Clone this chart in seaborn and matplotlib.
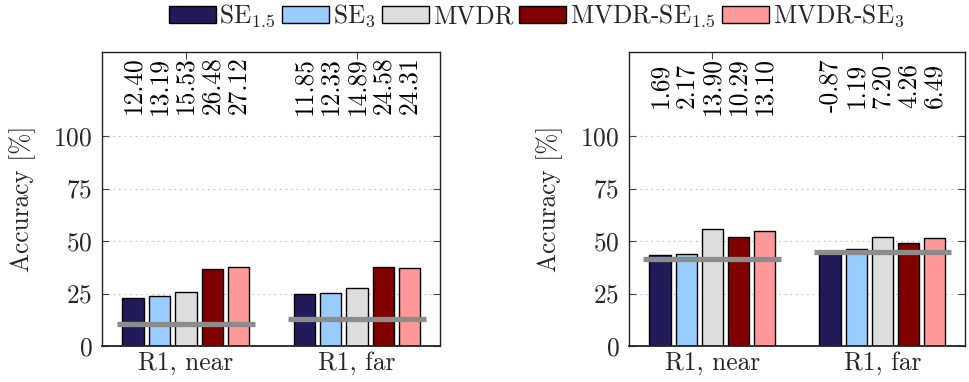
import matplotlib
matplotlib.use("Agg")
import matplotlib.pyplot as plt
import seaborn as sns
import pandas as pd

# Conditions on the x axis and the compared front-ends
conditions = ["R1, near", "R1, far"]
methods = ["SE$_{1.5}$", "SE$_{3}$", "MVDR", "MVDR-SE$_{1.5}$", "MVDR-SE$_{3}$"]
colors = ["#231A5A", "#99CCFF", "#DDDDDD", "#800000", "#FF9999"]

# Baseline accuracy (grey line) per condition, for the two panels
baseline_left = [10.4, 12.9]
baseline_right = [41.6, 44.8]

# Absolute improvement over the baseline [%], one list per method: [near, far]
gain_left = {
    "SE$_{1.5}$": [12.40, 11.85],
    "SE$_{3}$": [13.19, 12.33],
    "MVDR": [15.53, 14.89],
    "MVDR-SE$_{1.5}$": [26.48, 24.58],
    "MVDR-SE$_{3}$": [27.12, 24.31],
}
gain_right = {
    "SE$_{1.5}$": [1.69, -0.87],
    "SE$_{3}$": [2.17, 1.19],
    "MVDR": [13.90, 7.20],
    "MVDR-SE$_{1.5}$": [10.29, 4.26],
    "MVDR-SE$_{3}$": [13.10, 6.49],
}

yticks = [0, 25, 50, 75, 100]

sns.set_theme(style="white")
plt.rcParams["font.family"] = ["cmr10"]
plt.rcParams["mathtext.fontset"] = "cm"
plt.rcParams["axes.formatter.use_mathtext"] = True
plt.rcParams["axes.unicode_minus"] = False

FS = 18.3

fig = plt.figure(figsize=(9.7, 3.82), dpi=100)
ax_l = fig.add_axes([102 / 970, 36 / 382, 338 / 970, 294 / 382])
ax_r = fig.add_axes([629 / 970, 36 / 382, 336 / 970, 294 / 382])


def build_frame(baseline, gains):
    rows = []
    for m in methods:
        for ci, c in enumerate(conditions):
            rows.append({"cond": c, "method": m, "acc": baseline[ci] + gains[m][ci]})
    return pd.DataFrame(rows)


def draw_panel(ax, baseline, gains):
    df = build_frame(baseline, gains)
    sns.barplot(data=df, x="cond", y="acc", hue="method", order=conditions,
                hue_order=methods, palette=colors, width=0.77, gap=0.19,
                edgecolor="black", linewidth=1.0, saturation=1, ax=ax,
                zorder=2)
    # improvement values written above each bar
    for m, cont in zip(methods, ax.containers):
        for ci, bar in enumerate(cont):
            xc = bar.get_x() + bar.get_width() / 2
            ax.text(xc, 124, f"{gains[m][ci]:.2f}", rotation=90,
                    ha="center", va="center", fontsize=FS, color="black")
    # baseline accuracy per condition
    for ci in range(len(conditions)):
        ax.hlines(baseline[ci], ci - 0.405, ci + 0.405, color="#8C8C8C",
                  linewidth=3.8, zorder=4)
    ax.set_xlim(-0.49, 1.485)
    ax.set_ylim(0, 140)
    ax.set_yticks(yticks)
    ax.set_xlabel("")
    ax.set_ylabel("Accuracy [%]", fontsize=FS, labelpad=12)
    ax.yaxis.grid(True, linestyle=(0, (1, 4)), color="#AAAAAA", linewidth=0.8,
                  zorder=0)
    ax.set_axisbelow(True)
    ax.tick_params(axis="both", direction="in", length=5, width=0.8,
                   color="#444444", labelsize=FS, top=True, right=True,
                   bottom=True, left=True)
    ax.tick_params(axis="y", pad=7)
    ax.tick_params(axis="x", pad=4)
    for s in ax.spines.values():
        s.set_color("#222222")
        s.set_linewidth(1.0)
    ax.spines["bottom"].set_linewidth(1.3)


draw_panel(ax_l, baseline_left, gain_left)
draw_panel(ax_r, baseline_right, gain_right)

handles, labels = ax_l.get_legend_handles_labels()
for a in (ax_l, ax_r):
    if a.get_legend() is not None:
        a.get_legend().remove()

fig.legend(handles, labels, loc="center", bbox_to_anchor=(0.553, 0.958),
           ncol=5, frameon=False, fontsize=FS, handlelength=1.85,
           handleheight=0.65, handletextpad=0.15, columnspacing=0.25,
           borderaxespad=0, borderpad=0)

fig.savefig("out.png", dpi=100)
